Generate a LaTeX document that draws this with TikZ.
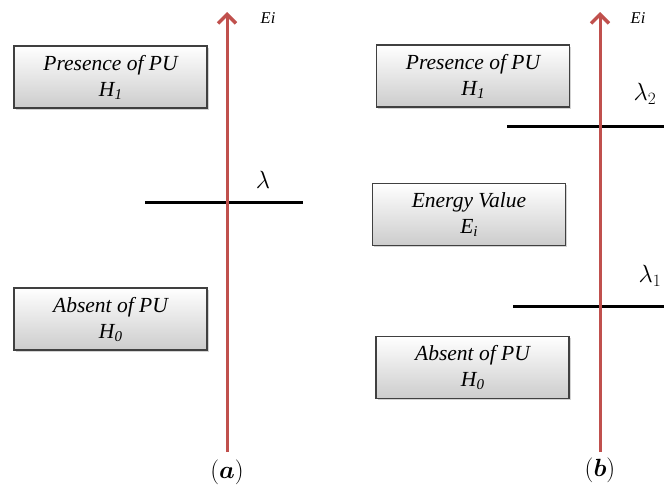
\documentclass[tikz,border=0pt]{standalone}
\usepackage{amsmath}
\usepackage{bm}
\usepackage{fontspec}
\setmainfont{Liberation Serif}
\usetikzlibrary{arrows.meta,shadows,calc}
\definecolor{axisred}{RGB}{192,80,77}
\definecolor{boxline}{RGB}{64,64,64}
\newcommand{\hsub}[2]{#1\raisebox{-3pt}{\fontsize{15}{15}\selectfont #2}}
\tikzset{
  statebox/.style={draw=boxline, line width=1.2pt, top color=white, bottom color=black!20,
    minimum width=193pt, minimum height=62pt, inner sep=0pt, align=center,
    font=\itshape\fontsize{21.5}{26}\selectfont,
    drop shadow={shadow xshift=1.5pt, shadow yshift=-1.5pt, opacity=0.35}},
  axisline/.style={draw=axisred, line width=3pt, -{Straight Barb[length=9pt,width=18pt,line width=3.5pt]}},
  thresh/.style={draw=black, line width=3pt},
  lbl/.style={inner sep=0pt, font=\fontsize{23}{25}\selectfont},
  caplbl/.style={inner sep=0pt, font=\fontsize{25}{27}\selectfont},
  axlbl/.style={inner sep=0pt, font=\itshape\fontsize{16.5}{18}\selectfont},
}
\begin{document}
\begin{tikzpicture}[x=1pt,y=-1pt]
\useasboundingbox (0,0) rectangle (664,490);
% panel (a)
\coordinate (a0) at (227,452);
\coordinate (a1) at (227,12);
\draw[thresh] (145,202) coordinate (la0) -- (303,202) coordinate (la1);
\draw[axisline] (a0) -- (a1);
\node[statebox] (ah1) at (110.5,77) {Presence of PU\\ \hsub{H}{1}};
\node[statebox] (ah0) at (110.5,319) {Absent of PU\\ \hsub{H}{0}};
\node[axlbl] (aei) at (268,18) {Ei};
\node[lbl] (alam) at (263,180) {$\lambda$};
\node[caplbl] (acap) at (227,472) {$(\bm{a})$};
% panel (b)
\coordinate (b0) at (600,452);
\coordinate (b1) at (600,12);
\draw[thresh] (507,126) coordinate (lb20) -- (664,126) coordinate (lb21);
\draw[thresh] (513,306) coordinate (lb10) -- (664,306) coordinate (lb11);
\draw[axisline] (b0) -- (b1);
\node[statebox] (bh1) at (473,76) {Presence of PU\\ \hsub{H}{1}};
\node[statebox] (be) at (469,214.5) {Energy Value\\ \hsub{E}{i}};
\node[statebox] (bh0) at (472.5,367.5) {Absent of PU\\ \hsub{H}{0}};
\node[axlbl] (bei) at (638,18) {Ei};
\node[lbl] (blam2) at (645,94) {$\lambda_2$};
\node[lbl] (blam1) at (650,276) {$\lambda_1$};
\node[caplbl] (bcap) at (600,470) {$(\bm{b})$};
\end{tikzpicture}
\end{document}
